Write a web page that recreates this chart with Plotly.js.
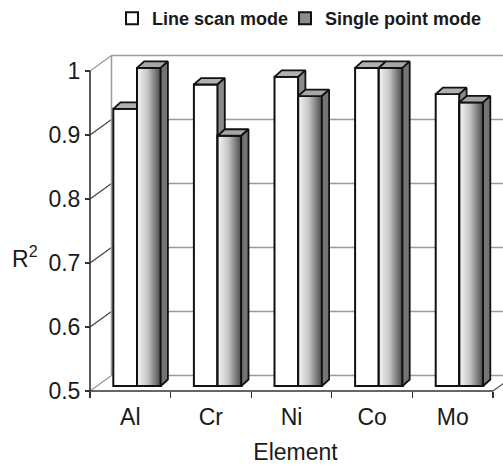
<!DOCTYPE html>
<html>
<head>
<meta charset="utf-8">
<script src="https://cdn.plot.ly/plotly-3.0.1.min.js"></script>
<style>
  html, body { margin: 0; padding: 0; background: #fff; }
  #chart { width: 503px; height: 465px; }
</style>
</head>
<body>
<div id="chart"></div>
<script>
// ---- data ----
const categories = ['Al', 'Cr', 'Ni', 'Co', 'Mo'];
const lineScan = [0.933, 0.971, 0.983, 0.997, 0.956];
const singlePoint = [0.997, 0.891, 0.953, 0.997, 0.943];
const seriesNames = ['Line scan mode', 'Single point mode'];
const yTickVals = [0.5, 0.6, 0.7, 0.8, 0.9, 1.0];
const yTickText = ['0.5', '0.6', '0.7', '0.8', '0.9', '1'];

// ---- geometry (pixel scales of the pseudo-3D frame) ----
const W = 503, H = 465;
const ML = 88, MR = 0, MT = 50, MB = 72;
const PX_X = 80.6;   // px per category
const PX_Y = 642;    // px per unit R^2
const plotW = W - ML - MR, plotH = H - MT - MB;
const xMin = -0.5 - 2 / PX_X, xMax = xMin + plotW / PX_X;
const yMin = 0.5 - 2 / PX_Y, yMax = yMin + plotH / PX_Y;

const WX = 21.5 / PX_X, WY = 15.5 / PX_Y;   // back wall offset
const BD = 5 / PX_Y;                         // bar front plane lift
const DX = 7.2 / PX_X, DY = 6.5 / PX_Y;      // bar depth
const BW = 23.7 / PX_X;                      // bar width
const OFF_LINE = -17 / PX_X;
const OFF_SINGLE = OFF_LINE + BW;
const BASE = 0.5 + BD;

const idx = categories.map((c, i) => i);

function topPoly(vals, off) {
  const xs = [], ys = [];
  vals.forEach((v, i) => {
    const x0 = i + off, x1 = x0 + BW, t = v + BD;
    xs.push(x0, x1, x1 + DX, x0 + DX, x0, null);
    ys.push(t, t, t + DY, t + DY, t, null);
  });
  return {xs, ys};
}
function sidePoly(vals, off) {
  const xs = [], ys = [];
  vals.forEach((v, i) => {
    const x1 = i + off + BW, t = v + BD;
    xs.push(x1, x1, x1 + DX, x1 + DX, x1, null);
    ys.push(BASE, t, t + DY, BASE + DY, BASE, null);
  });
  return {xs, ys};
}

const edge = {color: '#111', width: 1.8};
const traces = [];

traces.push({
  type: 'bar', name: seriesNames[0], x: idx, y: lineScan.map(v => v - 0.5),
  base: BASE, width: BW, offset: OFF_LINE, legend: 'legend',
  marker: {color: '#ffffff', line: {color: '#111', width: 2}}, hoverinfo: 'skip'
});
traces.push({
  type: 'bar', name: seriesNames[1], x: idx, y: singlePoint.map(v => v - 0.5),
  base: BASE, width: BW, offset: OFF_SINGLE, legend: 'legend2',
  marker: {color: '#8c8c8c', line: {color: '#111', width: 2}}, hoverinfo: 'skip'
});

const lt = topPoly(lineScan, OFF_LINE), ls = sidePoly(lineScan, OFF_LINE);
traces.push({type: 'scatter', mode: 'lines', x: lt.xs, y: lt.ys, fill: 'toself',
  fillcolor: '#b0b0b0', line: edge, showlegend: false, hoverinfo: 'skip'});
traces.push({type: 'scatter', mode: 'lines', x: ls.xs, y: ls.ys, fill: 'toself',
  fillcolor: '#8a8a8a', line: edge, showlegend: false, hoverinfo: 'skip'});

// single point front faces with horizontal gradient
singlePoint.forEach((v, i) => {
  const x0 = i + OFF_SINGLE, x1 = x0 + BW, t = v + BD;
  traces.push({type: 'scatter', mode: 'lines',
    x: [x0, x0, x1, x1, x0], y: [BASE, t, t, BASE, BASE], fill: 'toself',
    fillgradient: {type: 'horizontal', colorscale: [[0, '#f6f6f6'], [0.45, '#c4c4c4'], [1, '#4a4a4a']]},
    line: {color: '#111', width: 2}, showlegend: false, hoverinfo: 'skip'});
});
const st = topPoly(singlePoint, OFF_SINGLE), ss = sidePoly(singlePoint, OFF_SINGLE);
traces.push({type: 'scatter', mode: 'lines', x: st.xs, y: st.ys, fill: 'toself',
  fillcolor: '#a6a6a6', line: edge, showlegend: false, hoverinfo: 'skip'});
traces.push({type: 'scatter', mode: 'lines', x: ss.xs, y: ss.ys, fill: 'toself',
  fillcolor: '#747474', line: edge, showlegend: false, hoverinfo: 'skip'});

// ---- frame shapes ----
const shapes = [];
const grid = {color: '#9a9a9a', width: 1.5};
yTickVals.forEach(v => {
  shapes.push({type: 'line', layer: 'below', xref: 'x', yref: 'y',
    x0: -0.5 + WX, y0: v + WY, x1: xMax + 1, y1: v + WY, line: grid});
  shapes.push({type: 'line', layer: 'below', xref: 'x', yref: 'y',
    x0: -0.5, y0: v, x1: -0.5 + WX, y1: v + WY,
    line: {color: (v === 0.5 || v === 1.0) ? '#9a9a9a' : '#444', width: 1.3}});
});
shapes.push({type: 'line', layer: 'below', xref: 'x', yref: 'y',
  x0: -0.5 + WX, y0: 0.5 + WY, x1: -0.5 + WX, y1: 1.0 + WY, line: grid});
shapes.push({type: 'line', layer: 'above', xref: 'x', yref: 'y',
  x0: -0.5, y0: 0.5, x1: -0.5, y1: 1.0, line: {color: '#333', width: 1.6}});
shapes.push({type: 'line', layer: 'below', xref: 'x', yref: 'y',
  x0: -0.5, y0: 0.5, x1: categories.length - 0.5, y1: 0.5, line: {color: '#333', width: 1.6}});
shapes.push({type: 'line', layer: 'below', xref: 'x', yref: 'y',
  x0: categories.length - 0.5, y0: 0.5, x1: categories.length - 0.5 + WX, y1: 0.5 + WY,
  line: {color: '#555', width: 1.3}});

const boundaries = idx.map(i => i - 0.5).concat([categories.length - 0.5]);
const FONT = 'Liberation Sans, Arial, sans-serif';
const legendFont = {size: 18, color: '#1a1a1a', weight: 'bold'};
const legendY = 1 + 33 / plotH;

const layout = {
  width: W, height: H,
  margin: {l: ML, r: MR, t: MT, b: MB, pad: 0},
  paper_bgcolor: '#ffffff', plot_bgcolor: 'rgba(0,0,0,0)',
  barmode: 'overlay',
  showlegend: true,
  font: {family: FONT, color: '#1a1a1a'},
  xaxis: {
    type: 'linear', range: [xMin, xMax], domain: [0, 1],
    anchor: 'free', position: 2 / plotH,
    tickmode: 'array', tickvals: idx, ticktext: categories,
    ticks: '', showgrid: false, zeroline: false, showline: false,
    ticklabelstandoff: 10,
    tickfont: {size: 23, color: '#1a1a1a'},
    minor: {tickmode: 'array', tickvals: boundaries, ticks: 'outside', ticklen: 6,
      tickwidth: 1.3, tickcolor: '#333', showgrid: false},
    title: {text: 'Element', font: {size: 23, color: '#1a1a1a'}, standoff: 14},
    fixedrange: true
  },
  yaxis: {
    range: [yMin, yMax], anchor: 'free', position: 2 / plotW,
    tickmode: 'array', tickvals: yTickVals, ticktext: yTickText,
    ticks: 'outside', ticklen: 5, tickwidth: 1.3, tickcolor: '#333',
    showgrid: false, zeroline: false, showline: false,
    tickfont: {size: 23, color: '#1a1a1a'},
    fixedrange: true
  },
  legend: {
    orientation: 'h', x: (112 - ML) / plotW, xanchor: 'left', y: legendY, yanchor: 'middle',
    font: legendFont, bgcolor: 'rgba(0,0,0,0)', itemclick: false
  },
  legend2: {
    orientation: 'h', x: (285 - ML) / plotW, xanchor: 'left', y: legendY, yanchor: 'middle',
    font: legendFont, bgcolor: 'rgba(0,0,0,0)', itemclick: false
  },
  shapes: shapes,
  annotations: [{
    text: 'R<sup>2</sup>', xref: 'paper', yref: 'paper',
    x: (25 - ML) / plotW, y: (H - MB - 257) / plotH, xanchor: 'center', yanchor: 'middle',
    showarrow: false, font: {size: 23, color: '#1a1a1a'}
  }]
};

Plotly.newPlot('chart', traces, layout, {staticPlot: true, displayModeBar: false});
</script>
</body>
</html>
